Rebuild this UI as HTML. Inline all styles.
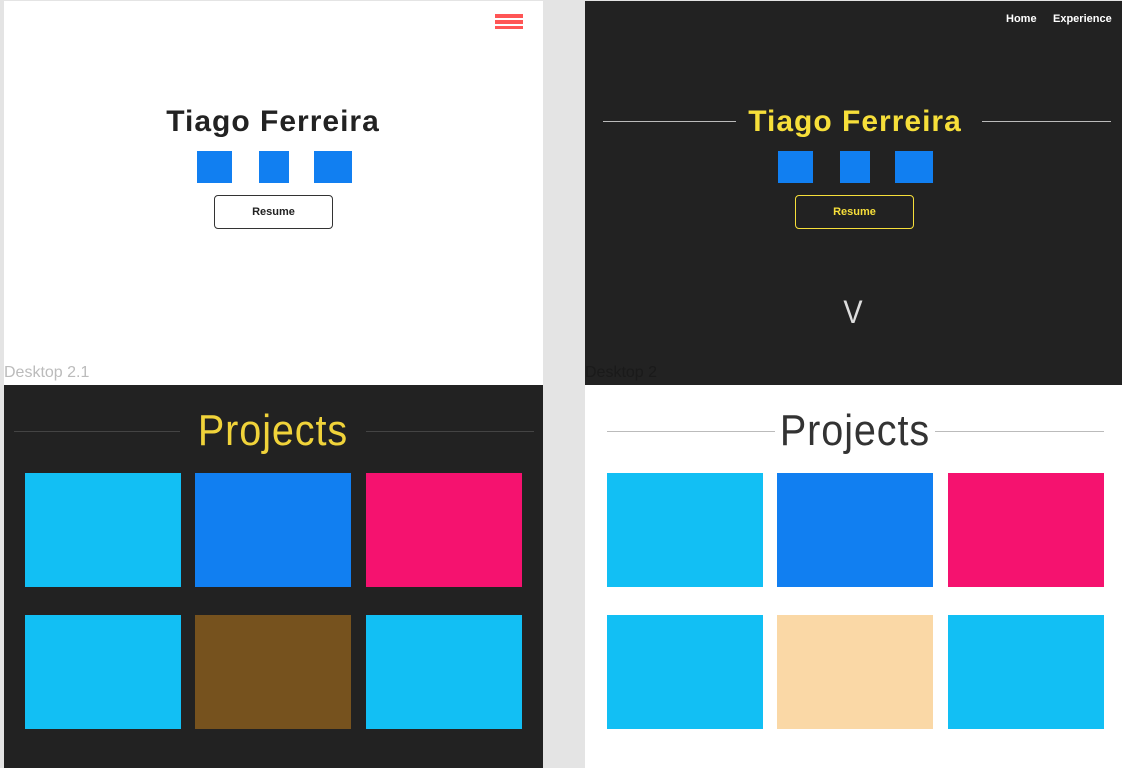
<!DOCTYPE html><html><head><style>
body{margin:0;width:1122px;height:768px;background:#e4e4e4;position:relative;overflow:hidden;font-family:"Liberation Sans",sans-serif}
div{position:absolute;box-sizing:border-box}
.t{font-weight:bold;font-size:30px;text-align:center;width:320px;line-height:36px;letter-spacing:1px}
.sq{background:#117ff1;height:32px;top:151px}
.btn{top:195px;height:34px;border-radius:4px;font-size:11px;font-weight:bold;text-align:center;line-height:32px}
.ln{height:1px}
.pj{font-size:44px;font-weight:100;width:300px;text-align:center;line-height:50px;letter-spacing:1px;transform:scaleX(.9)}
.b{width:156px;height:114px}
</style></head><body>
<div style="left:4px;top:1px;width:539px;height:384px;background:#fff"></div>
<div style="left:585px;top:1px;width:537px;height:384px;background:#222"></div>
<div style="left:4px;top:385px;width:539px;height:383px;background:#222"></div>
<div style="left:585px;top:385px;width:537px;height:383px;background:#fff"></div>
<div style="left:4px;top:364px;font-size:16px;color:#bbb">Desktop 2.1</div>
<div style="left:585px;top:364px;font-size:16px;color:#1a1a1a">Desktop 2</div>
<div style="left:495px;top:14px;width:28px;height:4px;background:#f55"></div>
<div style="left:495px;top:20px;width:28px;height:4px;background:#f55"></div>
<div style="left:495px;top:26px;width:28px;height:3px;background:#f55"></div>
<div style="left:1006px;top:13px;font-size:11px;font-weight:bold;color:#fff">Home</div>
<div style="left:1053px;top:13px;font-size:11px;font-weight:bold;color:#fff">Experience</div>
<div class="t" style="left:113px;top:104px;color:#222">Tiago Ferreira</div>
<div class="t" style="left:695px;top:104px;color:#f7df3a">Tiago Ferreira</div>
<div class="ln" style="left:603px;top:121px;width:133px;background:#bbb"></div>
<div class="ln" style="left:982px;top:121px;width:129px;background:#bbb"></div>
<div class="sq" style="left:197px;width:35px"></div><div class="sq" style="left:259px;width:30px"></div><div class="sq" style="left:314px;width:38px"></div>
<div class="sq" style="left:778px;width:35px"></div><div class="sq" style="left:840px;width:30px"></div><div class="sq" style="left:895px;width:38px"></div>
<div class="btn" style="left:214px;width:119px;border:1px solid #333;color:#222">Resume</div>
<div class="btn" style="left:795px;width:119px;border:1px solid #f7df3a;color:#f7df3a">Resume</div>
<div style="left:838px;top:294px;width:30px;text-align:center;font-size:32px;font-weight:100;color:#ddd;transform:scaleX(.9)">V</div>
<div class="ln" style="left:14px;top:431px;width:166px;background:#444"></div>
<div class="ln" style="left:366px;top:431px;width:168px;background:#444"></div>
<div class="ln" style="left:607px;top:431px;width:168px;background:#bbb"></div>
<div class="ln" style="left:935px;top:431px;width:169px;background:#bbb"></div>
<div class="pj" style="left:123px;top:406px;color:#f0d33a">Projects</div>
<div class="pj" style="left:705px;top:406px;color:#333">Projects</div>
<div class="b" style="left:25px;top:473px;background:#12bff4"></div>
<div class="b" style="left:195px;top:473px;background:#117ff1"></div>
<div class="b" style="left:366px;top:473px;background:#f5126f"></div>
<div class="b" style="left:25px;top:615px;background:#12bff4"></div>
<div class="b" style="left:195px;top:615px;background:#76521e"></div>
<div class="b" style="left:366px;top:615px;background:#12bff4"></div>
<div class="b" style="left:607px;top:473px;background:#12bff4"></div>
<div class="b" style="left:777px;top:473px;background:#117ff1"></div>
<div class="b" style="left:948px;top:473px;background:#f5126f"></div>
<div class="b" style="left:607px;top:615px;background:#12bff4"></div>
<div class="b" style="left:777px;top:615px;background:#fad8a6"></div>
<div class="b" style="left:948px;top:615px;background:#12bff4"></div>
</body></html>
